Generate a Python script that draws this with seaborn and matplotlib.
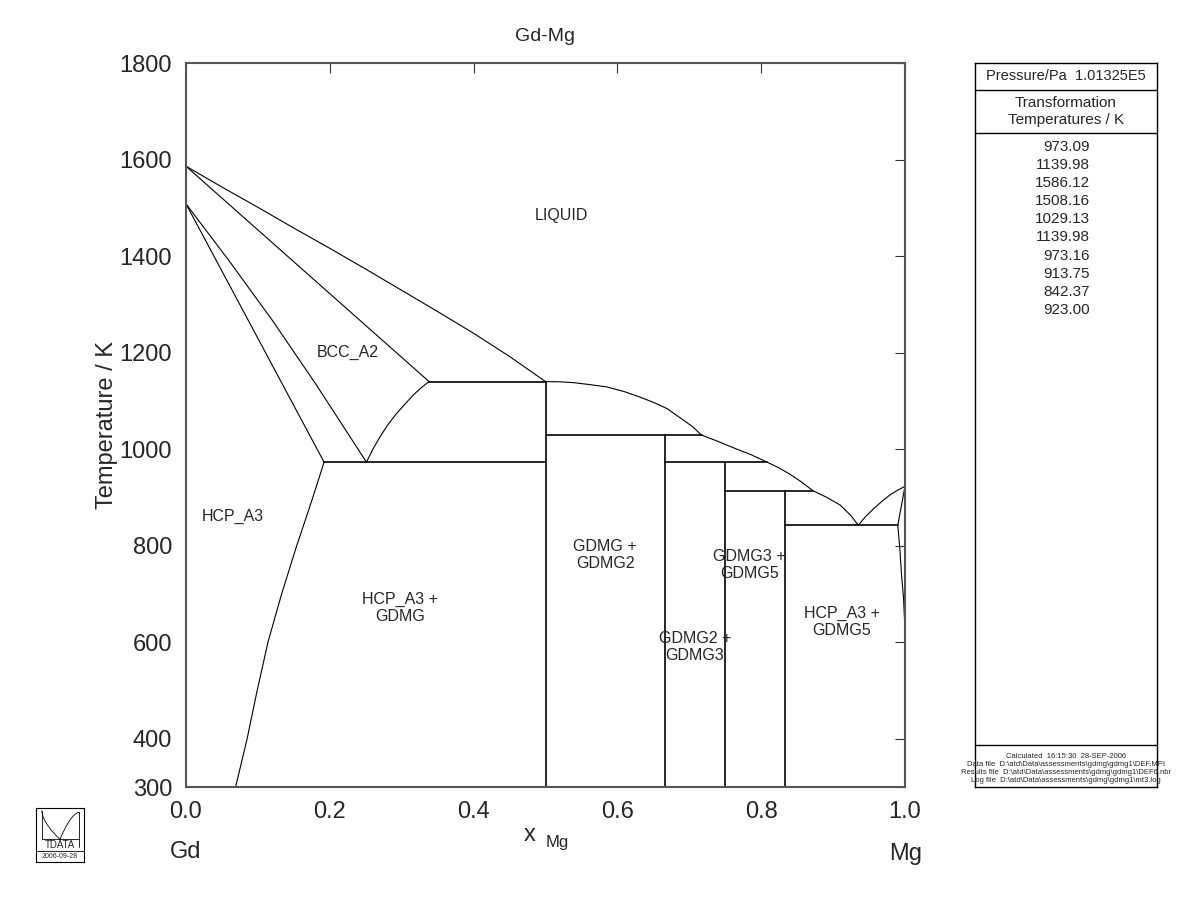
import numpy as np
import pandas as pd
import matplotlib
matplotlib.use("Agg")
import matplotlib.pyplot as plt
import seaborn as sns

sns.set_style("white")
plt.rcParams['font.family'] = ['Liberation Sans', 'DejaVu Sans']

# ---------------- data ----------------
liq_gd_x = [0.0, 0.05, 0.1, 0.15, 0.2, 0.25, 0.3, 0.35, 0.4, 0.45, 0.5]
liq_gd_T = [1586.12, 1543, 1501, 1458, 1416, 1373, 1329, 1285, 1240, 1192, 1139.98]

bcc_sol_x = [0.0, 0.338]
bcc_sol_T = [1586.12, 1139.98]

bcc_hcp_x = [0.0, 0.06, 0.12, 0.18, 0.251]
bcc_hcp_T = [1508.16, 1390, 1267, 1136, 973.09]

hcp_bcc_x = [0.0, 0.192]
hcp_bcc_T = [1508.16, 973.09]

bcc_gdmg_x = [0.251, 0.26, 0.270, 0.281, 0.293, 0.305, 0.316, 0.327, 0.338]
bcc_gdmg_T = [973.09, 1000, 1026, 1051, 1074, 1094, 1112, 1127, 1139.98]

hcp_solvus_x = [0.192, 0.185, 0.172, 0.154, 0.133, 0.114, 0.099, 0.085, 0.069]
hcp_solvus_T = [973.09, 940, 880, 800, 700, 600, 500, 400, 300]

liq_mg_x = [0.5, 0.52, 0.539, 0.56, 0.585, 0.61, 0.631, 0.65, 0.669, 0.692, 0.705, 0.717,
            0.74, 0.761, 0.785, 0.808, 0.825, 0.84, 0.856, 0.872, 0.89, 0.91, 0.925, 0.935]
liq_mg_T = [1139.98, 1139.5, 1137.7, 1134, 1129, 1119, 1108, 1097, 1084, 1060, 1046, 1029.13,
            1016, 1003, 989, 973.16, 961, 948, 932, 913.75, 901, 884, 862, 842.37]

liq_mgend_x = [0.935, 0.945, 0.956, 0.968, 0.979, 0.99, 1.0]
liq_mgend_T = [842.37, 860, 876, 892, 905, 915, 923.00]

mg_sol_x = [1.0, 0.990, 0.993, 0.995, 0.998, 0.9997, 1.0, 1.0]
mg_sol_T = [923.00, 842.37, 790, 743, 690, 636, 570, 300]

compounds = ["GDMG", "GDMG2", "GDMG3", "GDMG5"]
comp_x = [0.5, 0.6667, 0.75, 0.8333]
comp_Tmax = [1139.98, 1029.13, 973.16, 913.75]

inv_T = [973.09, 1139.98, 1029.13, 973.16, 913.75, 842.37]
inv_x0 = [0.192, 0.338, 0.5, 0.6667, 0.75, 0.8333]
inv_x1 = [0.5, 0.5, 0.717, 0.808, 0.872, 0.990]

region_labels = ["LIQUID", "BCC_A2", "HCP_A3", "HCP_A3 +\nGDMG", "GDMG +\nGDMG2",
                 "GDMG3 +\nGDMG5", "GDMG2 +\nGDMG3", "HCP_A3 +\nGDMG5"]
region_x = [0.5216, 0.225, 0.065, 0.298, 0.583, 0.784, 0.708, 0.912]
region_T = [1485, 1201, 861, 671, 781, 760, 590, 642]

trans_temps = ["973.09", "1139.98", "1586.12", "1508.16", "1029.13",
               "1139.98", "973.16", "913.75", "842.37", "923.00"]

y_ticks = [300, 400, 600, 800, 1000, 1200, 1400, 1600, 1800]
x_ticks = [0.0, 0.2, 0.4, 0.6, 0.8, 1.0]

# ---------------- build long table of curves ----------------
rows = []
curves = [(liq_gd_x, liq_gd_T), (bcc_sol_x, bcc_sol_T), (bcc_hcp_x, bcc_hcp_T),
          (hcp_bcc_x, hcp_bcc_T), (bcc_gdmg_x, bcc_gdmg_T), (hcp_solvus_x, hcp_solvus_T),
          (liq_mg_x, liq_mg_T), (liq_mgend_x, liq_mgend_T), (mg_sol_x, mg_sol_T)]
for i, (xs, ts) in enumerate(curves):
    for k, (a, b) in enumerate(zip(xs, ts)):
        rows.append(dict(seg=f"c{i}", order=k, x=a, T=b))
curves_df = pd.DataFrame(rows)

lrows = []
for j, (cx, tm) in enumerate(zip(comp_x, comp_Tmax)):
    lrows.append(dict(seg=f"v{j}", order=0, x=cx, T=300))
    lrows.append(dict(seg=f"v{j}", order=1, x=cx, T=tm))
for j, (t, a, b) in enumerate(zip(inv_T, inv_x0, inv_x1)):
    lrows.append(dict(seg=f"h{j}", order=0, x=a, T=t))
    lrows.append(dict(seg=f"h{j}", order=1, x=b, T=t))
lines_df = pd.DataFrame(lrows)

# ---------------- figure ----------------
W, H = 1200, 923
fig = plt.figure(figsize=(12, 9.23), dpi=100)
ax = fig.add_axes([186 / W, 1 - 787 / H, 719 / W, 724 / H])

sns.lineplot(data=curves_df, x="x", y="T", units="seg", estimator=None, sort=False,
             color="black", lw=0.8, ax=ax, legend=False)
sns.lineplot(data=lines_df, x="x", y="T", units="seg", estimator=None, sort=False,
             color="black", lw=1.2, ax=ax, legend=False)

ax.set_xlim(0, 1)
ax.set_ylim(300, 1800)
ax.set_xticks(x_ticks)
ax.set_xticklabels([f"{v:.1f}" for v in x_ticks], fontsize=17)
ax.set_yticks(y_ticks)
ax.set_yticklabels([str(v) for v in y_ticks], fontsize=17)
ax.set_xlabel("")
ax.set_ylabel("Temperature / K", fontsize=17, labelpad=1)
ax.tick_params(axis="both", which="both", direction="out", length=7, width=1,
               color="#333333", pad=3)
# top/right ticks inward
ax2 = ax.secondary_xaxis("top")
ax2.set_xticks(x_ticks)
ax2.set_xticklabels([])
ax2.tick_params(direction="in", length=7, color="#333333")
ax3 = ax.secondary_yaxis("right")
ax3.set_yticks(y_ticks)
ax3.set_yticklabels([])
ax3.tick_params(direction="in", length=7, color="#333333")
ax.tick_params(top=False, right=False)
for s in ["left", "right", "top", "bottom"]:
    ax.spines[s].set_color("#555555")
    ax.spines[s].set_linewidth(1.5)
ax2.spines["top"].set_visible(False)
ax3.spines["right"].set_visible(False)

for lab, lx, lt in zip(region_labels, region_x, region_T):
    ax.text(lx, lt, lab, ha="center", va="center", fontsize=11.5, linespacing=1.2)

ax.set_title("Gd-Mg", fontsize=14, pad=15.5)

fig.text(530 / W, 1 - 835 / H, "x", fontsize=17, ha="center", va="center")
fig.text(546 / W, 1 - 843 / H, "Mg", fontsize=12, ha="left", va="center")
fig.text(186 / W, 1 - 852 / H, "Gd", fontsize=17, ha="center", va="center")
fig.text(906 / W, 1 - 854 / H, "Mg", fontsize=17, ha="center", va="center")

# ---------------- right info panel ----------------
pan = fig.add_axes([975 / W, 1 - 787 / H, 182 / W, 724 / H])
pan.set_xlim(0, 1)
pan.set_ylim(0, 1)
pan.set_xticks([])
pan.set_yticks([])
for s in pan.spines.values():
    s.set_color("black")
    s.set_linewidth(1.0)
for yy in [(787 - 90) / 724, (787 - 133) / 724, (787 - 745) / 724]:
    pan.axhline(yy, color="black", lw=1.0)
pan.text(0.5, (787 - 76) / 724, "Pressure/Pa  1.01325E5", ha="center", va="center", fontsize=10.5)
pan.text(0.5, (787 - 103) / 724, "Transformation", ha="center", va="center", fontsize=11)
pan.text(0.5, (787 - 120) / 724, "Temperatures / K", ha="center", va="center", fontsize=11)
for i, t in enumerate(trans_temps):
    pan.text(0.632, (787 - 146.7 - i * 18.15) / 724, t, ha="right", va="center", fontsize=11)
info_lines = ["Calculated  16:15:30  28-SEP-2006",
              "Data file  D:\\atd\\Data\\assessments\\gdmg\\gdmg1\\DEF.MPI",
              "Results file  D:\\atd\\Data\\assessments\\gdmg\\gdmg1\\DEF6.nbr",
              "Log file  D:\\atd\\Data\\assessments\\gdmg\\gdmg1\\mt3.log"]
for i, (t, yp) in enumerate(zip(info_lines, [756, 765, 773, 781])):
    pan.text(0.5, (787 - yp) / 724, t, ha="center", va="center", fontsize=5.5, clip_on=False)

# ---------------- logo ----------------
logo = fig.add_axes([36 / W, 1 - 862 / H, 48 / W, 54 / H])
logo.set_xlim(0, 1)
logo.set_ylim(0, 1)
logo.set_xticks([])
logo.set_yticks([])
for s in logo.spines.values():
    s.set_color("black")
    s.set_linewidth(0.8)
logo.axhline(0.2, color="black", lw=0.6)
logo.plot([0.12, 0.12], [0.95, 0.42], color="black", lw=0.6)
tt = np.linspace(0, 1, 30)
logo.plot(0.12 + 0.38 * tt, 0.95 - 0.53 * tt ** 0.6, color="black", lw=0.6)
logo.plot(0.5 + 0.4 * tt, 0.42 + 0.5 * (1 - (1 - tt) ** 1.7), color="black", lw=0.6)
logo.plot([0.12, 0.9], [0.42, 0.42], color="black", lw=0.6)
logo.plot([0.9, 0.9], [0.92, 0.28], color="black", lw=0.6)
logo.text(0.5, 0.31, "TDATA", ha="center", va="center", fontsize=7)
logo.text(0.5, 0.1, "2006-09-28", ha="center", va="center", fontsize=5)

fig.savefig("out.png", dpi=100)
